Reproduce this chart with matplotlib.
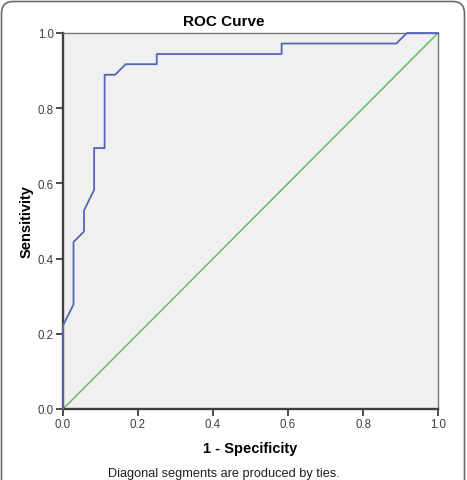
import matplotlib
matplotlib.use('Agg')
import matplotlib.pyplot as plt
from matplotlib.patches import FancyBboxPatch

matplotlib.rcParams['font.family'] = ['Liberation Sans', 'DejaVu Sans']

# ROC curve points
fpr = [0.0, 0.0, 0.028, 0.028, 0.056, 0.056, 0.083, 0.083, 0.111, 0.111,
       0.139, 0.167, 0.25, 0.25, 0.583, 0.583, 0.889, 0.917, 1.0]
tpr = [0.0, 0.222, 0.278, 0.444, 0.472, 0.528, 0.583, 0.694, 0.694, 0.889,
       0.889, 0.917, 0.917, 0.944, 0.944, 0.972, 0.972, 1.0, 1.0]
ref_x = [0.0, 1.0]
ref_y = [0.0, 1.0]
ticks = [0.0, 0.2, 0.4, 0.6, 0.8, 1.0]
tick_labels = ['0.0', '0.2', '0.4', '0.6', '0.8', '1.0']

W, H = 467, 481
fig = plt.figure(figsize=(W / 100, H / 100), dpi=100)
fig.patch.set_facecolor('white')

# rounded outer frame (open at the bottom, cropped)
frame = FancyBboxPatch((1.5 / W, -0.1), (W - 4) / W, 1 + 0.1 - 2.5 / H,
                       boxstyle='round,pad=0,rounding_size=0.025',
                       transform=fig.transFigure, fill=False,
                       edgecolor='#6a6a6a', linewidth=1.2)
fig.patches.append(frame)

ax = fig.add_axes([63 / W, 1 - 410 / H, 375 / W, 376 / H])
ax.set_facecolor('#f0f0f0')

ax.plot(ref_x, ref_y, color='#5dbf68', linewidth=1.1, zorder=2)
ax.plot(fpr, tpr, color='#5566b4', linewidth=1.3, clip_on=False, zorder=3)

ax.set_xlim(0, 1)
ax.set_ylim(0, 1)
ax.set_xticks(ticks)
ax.set_yticks(ticks)
ax.set_xticklabels(tick_labels)
ax.set_yticklabels(tick_labels)
ax.tick_params(direction='out', length=5, width=1.3, color='#404040',
               labelsize=8.3, labelcolor='#404040', pad=1.5)

for s in ['left', 'bottom']:
    ax.spines[s].set_color('#404040')
    ax.spines[s].set_linewidth(1.7)
for s in ['top', 'right']:
    ax.spines[s].set_color('#777777')
    ax.spines[s].set_linewidth(1.0)

ax.set_xlabel('1 - Specificity', fontsize=10.5, fontweight='bold', labelpad=8)
ax.set_ylabel('Sensitivity', fontsize=10.5, fontweight='bold', labelpad=3)

fig.text(224 / W, 1 - 26 / H, 'ROC Curve', fontsize=11, fontweight='bold',
         ha='center', va='baseline')
fig.text(223.5 / W, 1 - 477 / H, 'Diagonal segments are produced by ties.',
         fontsize=9.2, ha='center', va='baseline', color='#202020')

plt.savefig('out.png', dpi=100)
